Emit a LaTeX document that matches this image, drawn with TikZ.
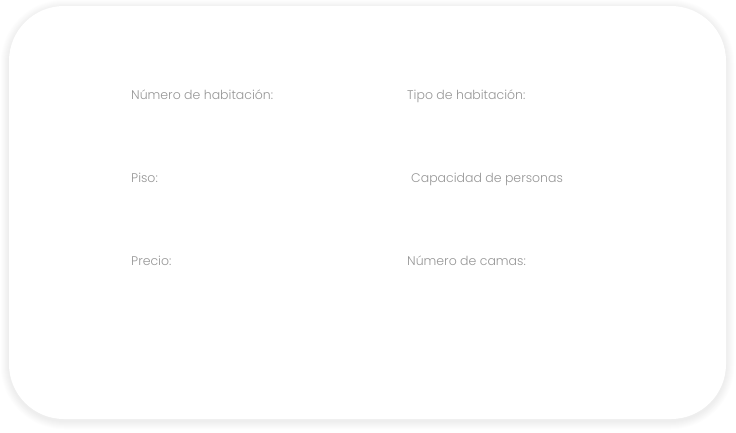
\documentclass[tikz,border=0pt]{standalone}
\usepackage{fontspec}
\setmainfont{Poppins}[UprightFont=* Light]
\usetikzlibrary{positioning}
\definecolor{mylabelgray}{RGB}{150,150,150}
\definecolor{myshadow}{RGB}{120,120,120}
\tikzset{field/.style={anchor=base west,inner sep=0pt,text=mylabelgray,font=\fontsize{12.5}{15}\selectfont}}

\begin{document}
\begin{tikzpicture}[x=1pt,y=-1pt]
\useasboundingbox (0,0) rectangle (736,432);
% soft shadow round the card
\foreach \s in {1,...,8}
  \fill[myshadow,opacity=0.016,rounded corners=55+\s] (9-\s,6-\s+2) rectangle (726+\s,419+\s+2);
\fill[white,rounded corners=55] (9,6) rectangle (726,419);
\node[field] (numhab) at (131,99) {Número de habitación:};
\node[field] (tipohab) at (407,99) {Tipo de habitación:};
\node[field] (piso) at (131,182) {Piso:};
\node[field] (capac) at (411,182) {Capacidad de personas};
\node[field] (precio) at (131,265) {Precio:};
\node[field] (camas) at (407,265) {Número de camas:};
\end{tikzpicture}
\end{document}
